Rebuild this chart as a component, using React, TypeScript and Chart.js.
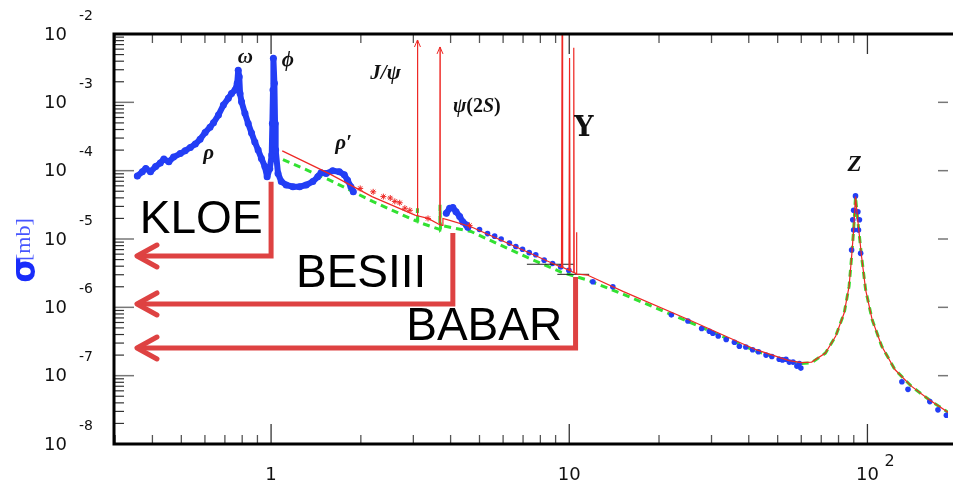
import React, { useEffect, useRef } from 'react';
import { Chart, registerables } from 'chart.js';
Chart.register(...registerables);

// ---------- axis ranges ----------
const X_MIN = 0.2973;
const X_MAX = 186.3;
const Y_MIN = 1e-8;
const Y_MAX = 1e-2;
const yTickExponents = [-8, -7, -6, -5, -4, -3, -2];
const xMajorTicks = [1, 10, 100];

// ---------- blue data: low energy (rho, omega, phi, rho') ----------
const lowE = [0.356, 0.370, 0.380, 0.394, 0.410, 0.425, 0.437, 0.454, 0.471, 0.496, 0.515, 0.536, 0.557, 0.578, 0.601, 0.624, 0.641, 0.666, 0.692, 0.719, 0.737, 0.757, 0.770, 0.776, 0.782, 0.787, 0.796, 0.817, 0.838, 0.860, 0.882, 0.905, 0.928, 0.953, 0.970, 0.990, 1.005, 1.010, 1.015, 1.018, 1.026, 1.031, 1.036, 1.055, 1.082, 1.124, 1.184, 1.246, 1.311, 1.380, 1.434, 1.471, 1.529, 1.609, 1.694, 1.760, 1.805, 1.852, 1.887];
const lowSigma = [8.36e-5, 9.66e-5, 1.08e-4, 9.66e-5, 1.15e-4, 1.29e-4, 1.48e-4, 1.35e-4, 1.58e-4, 1.78e-4, 1.95e-4, 2.19e-4, 2.45e-4, 2.88e-4, 3.63e-4, 4.32e-4, 5.01e-4, 6.53e-4, 9.12e-4, 1.15e-3, 1.35e-3, 1.51e-3, 1.91e-3, 2.95e-3, 2.37e-3, 1.35e-3, 1.02e-3, 6.92e-4, 4.90e-4, 3.55e-4, 2.63e-4, 2.00e-4, 1.51e-4, 1.15e-4, 8.13e-5, 1.07e-4, 1.70e-4, 4.90e-4, 1.51e-3, 4.41e-3, 1.91e-3, 4.90e-4, 2.00e-4, 9.12e-5, 6.92e-5, 6.17e-5, 5.82e-5, 5.82e-5, 6.17e-5, 6.92e-5, 8.13e-5, 9.33e-5, 9.12e-5, 1.00e-4, 9.66e-5, 8.71e-5, 7.24e-5, 5.82e-5, 4.90e-5];

// ---------- blue data: charm region cluster ----------
const psiE = [3.87, 3.97, 4.07, 4.17, 4.29, 4.40, 4.52, 4.57];
const psiSigma = [2.38e-5, 2.82e-5, 2.88e-5, 2.51e-5, 2.14e-5, 1.78e-5, 1.60e-5, 1.48e-5];

// ---------- blue data: scattered points up to the Z and beyond ----------
const highE = [5.0, 5.32, 5.62, 5.91, 6.3, 6.62, 6.97, 7.34, 7.72, 8.24, 8.79, 9.36, 9.97, 12.0, 14.0, 22.0, 25.0, 27.8, 29.5, 30.3, 31.6, 33.6, 35.8, 37.2, 39.1, 41.2, 43.1, 45.7, 47.8, 50.6, 51.9, 53.3, 54.7, 56.3, 58.0, 59.1, 59.8, 88.5, 89.3, 89.9, 89.9, 91.2, 92.9, 93.3, 94.0, 94.9, 130.5, 136.8, 161.9, 172.4, 184];
const highSigma = [1.38e-5, 1.20e-5, 1.10e-5, 1.00e-5, 8.71e-6, 7.76e-6, 7.08e-6, 6.31e-6, 5.89e-6, 4.90e-6, 4.37e-6, 3.89e-6, 3.47e-6, 2.37e-6, 2.00e-6, 7.76e-7, 6.31e-7, 4.90e-7, 4.47e-7, 4.17e-7, 3.80e-7, 3.39e-7, 3.09e-7, 2.69e-7, 2.63e-7, 2.40e-7, 2.24e-7, 2.00e-7, 1.91e-7, 1.74e-7, 1.70e-7, 1.74e-7, 1.58e-7, 1.58e-7, 1.38e-7, 1.51e-7, 1.29e-7, 6.92e-6, 1.91e-5, 2.63e-5, 1.35e-5, 4.27e-5, 2.51e-5, 1.35e-5, 1.91e-5, 6.17e-6, 8.13e-8, 6.31e-8, 4.17e-8, 3.16e-8, 2.63e-8];

// ---------- red theory curve (with narrow resonances) ----------
const fitE = [1.09, 1.56, 2.18, 3.04, 3.09, 3.097, 3.104, 3.36, 3.68, 3.686, 3.692, 3.75, 3.77, 4.0, 4.68, 7.24, 9.35, 9.42, 9.46, 9.50, 9.98, 10.023, 10.06, 10.32, 10.355, 10.39, 10.56, 10.58, 10.60, 11.5, 15.2, 25.4, 42.3, 54.6, 60, 65, 72.3, 78.3, 83.6, 86.8, 88.5, 89.9, 91.2, 93.3, 95.6, 98.6, 103.7, 111.7, 123.6, 140, 160.7, 187];
const fitSigma = [1.95e-4, 9.12e-5, 4.17e-5, 2.24e-5, 2.19e-5, 8.17e-3, 2.19e-5, 2.00e-5, 1.62e-5, 6.46e-3, 1.62e-5, 1.58e-5, 2.00e-5, 1.86e-5, 1.51e-5, 6.46e-6, 3.89e-6, 3.85e-6, 1.0e-2, 3.84e-6, 3.47e-6, 4.47e-3, 3.45e-6, 3.24e-6, 6.31e-3, 3.22e-6, 3.09e-6, 1.26e-5, 3.07e-6, 2.97e-6, 1.70e-6, 6.46e-7, 2.40e-7, 1.66e-7, 1.55e-7, 1.58e-7, 2.14e-7, 3.80e-7, 8.32e-7, 2.04e-6, 5.50e-6, 1.35e-5, 4.17e-5, 1.51e-5, 5.50e-6, 1.82e-6, 6.61e-7, 2.69e-7, 1.23e-7, 7.08e-8, 4.47e-8, 2.88e-8];

// ---------- green dashed curve ----------
const greenE = [1.096, 1.56, 2.19, 3.04, 3.09, 3.097, 3.104, 3.68, 3.686, 3.70, 3.80, 4.68, 7.24, 9.35, 11.5, 15.2, 25.4, 42.3, 54.6, 60, 65, 72.3, 78.3, 83.6, 86.8, 88.5, 89.9, 91.2, 93.3, 95.6, 98.6, 103.7, 111.7, 123.6, 140, 160.7, 187];
const greenSigma = [1.45e-4, 7.41e-5, 3.55e-5, 1.86e-5, 1.82e-5, 2.82e-5, 1.78e-5, 1.38e-5, 3.16e-5, 1.38e-5, 1.55e-5, 1.29e-5, 5.37e-6, 3.31e-6, 2.51e-6, 1.55e-6, 6.03e-7, 2.29e-7, 1.62e-7, 1.51e-7, 1.55e-7, 2.14e-7, 3.80e-7, 8.32e-7, 2.04e-6, 5.50e-6, 1.35e-5, 4.17e-5, 1.51e-5, 5.50e-6, 1.82e-6, 6.61e-7, 2.69e-7, 1.23e-7, 7.08e-8, 4.47e-8, 2.88e-8];

// ---------- red star points ----------
const starE = [1.99, 2.2, 2.38, 2.51, 2.6, 2.7, 2.81, 2.92, 3.36, 4.63];
const starSigma = [5.50e-5, 4.90e-5, 4.17e-5, 3.98e-5, 3.55e-5, 3.39e-5, 2.82e-5, 2.63e-5, 2.00e-5, 1.58e-5];

// ---------- black horizontal error bars ----------
const barAE = [7.21, 10.36];
const barASigma = [4.27e-6, 4.27e-6];
const barBE = [9.12, 11.66];
const barBSigma = [3.04e-6, 3.04e-6];

// ---------- experiment arrows ----------
const expNames = ['KLOE', 'BESIII', 'BABAR'];
const expArrowE = [1.0, 4.07, 10.5];
const expArrowTop = [6.89e-5, 1.22e-5, 2.78e-6];
const expArrowBottom = [5.64e-6, 1.12e-6, 2.54e-7];
const expArrowTipE = 0.355;
const expLabelE = [0.363, 1.212, 2.84];
const expLabelSigma = [1.22e-5, 1.98e-6, 3.33e-7];

// ---------- resonance labels ----------
const resNames = ['ω', 'ϕ', 'ρ', "ρ′", 'J/ψ', 'ψ(2S)', 'Υ', 'Z'];
const resE = [0.819, 1.139, 0.617, 1.75, 2.42, 4.90, 11.2, 90.5];
const resSigma = [4.46e-3, 4.03e-3, 1.75e-4, 2.45e-4, 2.60e-3, 8.55e-4, 4.07e-4, 1.21e-4];
const arrowResE = [3.097, 3.686];
const arrowResSigma = [8.17e-3, 6.46e-3];

const pts = (xs: number[], ys: number[]) => xs.map((x, i) => ({ x, y: ys[i] }));

const BLUE = 'rgb(35,62,245)';
const RED = 'rgb(238,40,36)';
const GREEN = 'rgb(50,225,50)';
const ARROW_RED = 'rgb(222,66,66)';

const overlay = {
  id: 'overlay',
  beforeDraw(chart: any) {
    const { ctx } = chart;
    ctx.save();
    ctx.fillStyle = '#ffffff';
    ctx.fillRect(0, 0, chart.width, chart.height);
    ctx.restore();
  },
  afterDatasetsDraw(chart: any) {
    const { ctx, chartArea: a } = chart;
    const x = chart.scales.x;
    const y = chart.scales.y;
    const line = (x1: number, y1: number, x2: number, y2: number) => {
      ctx.beginPath();
      ctx.moveTo(x1, y1);
      ctx.lineTo(x2, y2);
      ctx.stroke();
    };
    ctx.save();

    // arrowheads on J/psi and psi(2S)
    ctx.strokeStyle = RED;
    ctx.lineWidth = 1;
    arrowResE.forEach((e, i) => {
      const px = x.getPixelForValue(e);
      const py = y.getPixelForValue(arrowResSigma[i]);
      ctx.beginPath();
      ctx.moveTo(px - 3, py + 7);
      ctx.lineTo(px, py);
      ctx.lineTo(px + 3, py + 7);
      ctx.stroke();
    });

    // y ticks
    for (let k = -8; k <= -2; k++) {
      for (let m = 1; m <= 9; m++) {
        const v = m * Math.pow(10, k);
        if (v > Y_MAX * 1.0001) continue;
        const py = y.getPixelForValue(v);
        if (m === 1) {
          ctx.strokeStyle = '#777';
          ctx.lineWidth = 1.5;
          line(a.left, py, a.left + 20, py);
          line(a.right - 10, py, a.right, py);
        } else {
          ctx.strokeStyle = '#333';
          ctx.lineWidth = 1.2;
          line(a.left, py, a.left + 10, py);
        }
      }
    }
    // x ticks
    for (let k = -1; k <= 2; k++) {
      for (let m = 1; m <= 9; m++) {
        const v = m * Math.pow(10, k);
        if (v < X_MIN || v > X_MAX) continue;
        const px = x.getPixelForValue(v);
        const len = m === 1 ? 20 : 9;
        ctx.strokeStyle = m === 1 ? '#333' : '#555';
        ctx.lineWidth = 1.3;
        line(px, a.bottom, px, a.bottom - len);
        line(px, a.top, px, a.top + len);
      }
    }
    // frame
    ctx.strokeStyle = '#000';
    ctx.lineWidth = 3;
    ctx.beginPath();
    ctx.moveTo(a.right + 5, a.top);
    ctx.lineTo(a.left, a.top);
    ctx.lineTo(a.left, a.bottom);
    ctx.lineTo(a.right + 5, a.bottom);
    ctx.stroke();

    // y tick labels
    ctx.fillStyle = '#111';
    yTickExponents.forEach((e) => {
      const py = y.getPixelForValue(Math.pow(10, e));
      ctx.font = '18px "DejaVu Sans"';
      ctx.textAlign = 'right';
      ctx.textBaseline = 'middle';
      ctx.fillText('10', 67, py + 1);
      ctx.font = '14px "DejaVu Sans"';
      ctx.textAlign = 'left';
      ctx.fillText(String(e), 79, py - 18);
    });
    // x tick labels
    xMajorTicks.forEach((v) => {
      const px = x.getPixelForValue(v);
      ctx.font = '18px "DejaVu Sans"';
      ctx.textAlign = 'center';
      ctx.textBaseline = 'alphabetic';
      if (v === 1) ctx.fillText('1', px, 480);
      else if (v === 10) ctx.fillText('10', px, 480);
      else {
        ctx.fillText('10', px, 480);
        ctx.font = '16px "DejaVu Sans"';
        ctx.textAlign = 'left';
        ctx.fillText('2', px + 17, 466);
      }
    });

    // y axis title
    ctx.save();
    ctx.translate(24, 254);
    ctx.rotate(-Math.PI / 2);
    ctx.textBaseline = 'middle';
    ctx.fillStyle = 'rgb(25,45,250)';
    ctx.font = 'bold 33px "DejaVu Sans"';
    ctx.textAlign = 'right';
    ctx.fillText('σ', -3, 2);
    ctx.fillStyle = 'rgb(70,85,255)';
    ctx.font = '22px "Liberation Serif"';
    ctx.textAlign = 'left';
    ctx.fillText('[mb]', -7, 0);
    ctx.restore();

    // resonance labels
    ctx.fillStyle = '#111';
    ctx.textBaseline = 'middle';
    resNames.forEach((name, i) => {
      const px = x.getPixelForValue(resE[i]);
      const py = y.getPixelForValue(resSigma[i]);
      if (name === 'ψ(2S)') {
        const parts: [string, string][] = [
          ['ψ', 'italic bold 20px "Liberation Serif"'],
          ['(2', 'bold 20px "Liberation Serif"'],
          ['S', 'italic bold 20px "Liberation Serif"'],
          [')', 'bold 20px "Liberation Serif"'],
        ];
        let w = 0;
        parts.forEach(([t, f]) => { ctx.font = f; w += ctx.measureText(t).width; });
        let cx = px - w / 2;
        ctx.textAlign = 'left';
        parts.forEach(([t, f]) => { ctx.font = f; ctx.fillText(t, cx, py); cx += ctx.measureText(t).width; });
        return;
      }
      ctx.textAlign = 'center';
      if (name === 'Υ') ctx.font = 'bold 27px "DejaVu Serif"';
      else if (name === 'Z') ctx.font = 'italic bold 23px "Liberation Serif"';
      else ctx.font = 'italic bold 21px "Liberation Serif"';
      ctx.fillText(name, px, py);
    });

    // experiment arrows
    ctx.strokeStyle = ARROW_RED;
    ctx.lineWidth = 5;
    ctx.lineJoin = 'miter';
    ctx.lineCap = 'butt';
    const tipX = x.getPixelForValue(expArrowTipE);
    expArrowE.forEach((e, i) => {
      const px = x.getPixelForValue(e);
      const pt = y.getPixelForValue(expArrowTop[i]);
      const pb = y.getPixelForValue(expArrowBottom[i]);
      ctx.beginPath();
      ctx.moveTo(px, pt);
      ctx.lineTo(px, pb);
      ctx.lineTo(tipX + 2, pb);
      ctx.stroke();
      ctx.lineCap = 'round';
      ctx.lineJoin = 'round';
      ctx.beginPath();
      ctx.moveTo(tipX + 20, pb - 11);
      ctx.lineTo(tipX, pb);
      ctx.lineTo(tipX + 20, pb + 11);
      ctx.stroke();
      ctx.lineCap = 'butt';
      ctx.lineJoin = 'miter';
    });
    // experiment labels
    ctx.fillStyle = '#000';
    ctx.font = '46px "Liberation Sans"';
    ctx.textAlign = 'left';
    ctx.textBaseline = 'alphabetic';
    expNames.forEach((n, i) => {
      ctx.fillText(n, x.getPixelForValue(expLabelE[i]), y.getPixelForValue(expLabelSigma[i]));
    });
    ctx.restore();
  },
};

export default function App() {
  const ref = useRef<HTMLCanvasElement>(null);
  useEffect(() => {
    document.body.style.margin = '0';
    const chart = new Chart(ref.current as HTMLCanvasElement, {
      type: 'scatter',
      data: {
        datasets: [
          {
            label: 'fit',
            data: pts(fitE, fitSigma),
            showLine: true,
            borderColor: RED,
            borderWidth: 1.2,
            pointRadius: 0,
            order: 0,
          },
          {
            label: 'stars',
            data: pts(starE, starSigma),
            pointStyle: 'star',
            pointRadius: 3,
            borderColor: RED,
            backgroundColor: RED,
            borderWidth: 1,
            order: 1,
          },
          {
            label: 'barA',
            data: pts(barAE, barASigma),
            showLine: true,
            borderColor: '#222',
            borderWidth: 1,
            pointRadius: 0,
            order: 1,
          },
          {
            label: 'barB',
            data: pts(barBE, barBSigma),
            showLine: true,
            borderColor: '#222',
            borderWidth: 1,
            pointRadius: 0,
            order: 1,
          },
          {
            label: 'low',
            data: pts(lowE, lowSigma),
            showLine: true,
            borderColor: BLUE,
            backgroundColor: BLUE,
            borderWidth: 6,
            borderJoinStyle: 'round',
            borderCapStyle: 'round',
            pointRadius: 3.5,
            pointBorderWidth: 0,
            order: 2,
          },
          {
            label: 'psi',
            data: pts(psiE, psiSigma),
            showLine: true,
            borderColor: BLUE,
            backgroundColor: BLUE,
            borderWidth: 6,
            borderJoinStyle: 'round',
            borderCapStyle: 'round',
            pointRadius: 3.5,
            pointBorderWidth: 0,
            order: 2,
          },
          {
            label: 'high',
            data: pts(highE, highSigma),
            borderColor: BLUE,
            backgroundColor: BLUE,
            pointRadius: 2.8,
            pointBorderWidth: 0,
            order: 2,
          },
          {
            label: 'green',
            data: pts(greenE, greenSigma),
            showLine: true,
            borderColor: GREEN,
            borderWidth: 3,
            borderDash: [7, 5],
            pointRadius: 0,
            order: 3,
          },
        ],
      } as any,
      options: {
        animation: false,
        responsive: false,
        devicePixelRatio: 1,
        layout: { padding: { left: 114, top: 34, right: 0, bottom: 38 } },
        plugins: { legend: { display: false }, tooltip: { enabled: false } },
        scales: {
          x: { type: 'logarithmic', min: X_MIN, max: X_MAX, bounds: 'data', display: false },
          y: { type: 'logarithmic', min: Y_MIN, max: Y_MAX, bounds: 'data', display: false },
        },
      } as any,
      plugins: [overlay],
    });
    return () => chart.destroy();
  }, []);
  return (
    <div style={{ width: 953, height: 482, overflow: 'hidden', background: '#fff' }}>
      <canvas ref={ref} width={953} height={482} style={{ display: 'block' }} />
    </div>
  );
}
